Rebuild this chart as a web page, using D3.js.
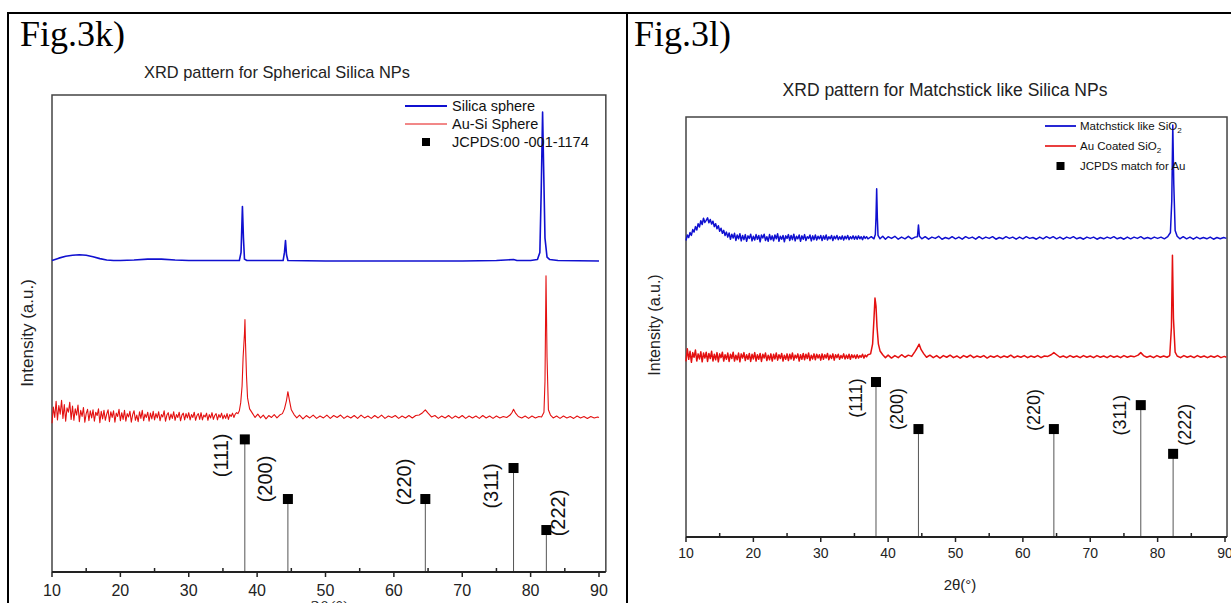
<!DOCTYPE html>
<html><head><meta charset="utf-8">
<script src="https://cdn.jsdelivr.net/npm/d3@7"></script>
<style>body{margin:0;background:#fff}svg{display:block}</style>
</head><body>
<svg id="c" width="1231" height="603"></svg>
<script>
// ---------------- DATA ----------------
const xTicks = [10, 20, 30, 40, 50, 60, 70, 80, 90];
const xMinor = [15, 25, 35, 45, 55, 65, 75, 85];
const hklLabels = ["(111)", "(200)", "(220)", "(311)", "(222)"];
const jcpdsPos = [38.2, 44.5, 64.6, 77.5, 82.3];
const jcpdsLeft = [27.8, 15.3, 15.3, 21.8, 8.8];    // Fig.3k stick heights (a.u.)
const jcpdsRight = [36.9, 25.7, 25.7, 31.4, 19.8];  // Fig.3l stick heights (a.u.)

// low-angle scans are sampled every 0.2 deg from 10.0 to 37.0 (intensity only)
const lowStart = 10, lowStep = 0.2;

// Fig.3k  Silica sphere  [2theta, intensity]
const silicaSphere = [[10,65.3],[11,65.8],[12,66.2],[13,66.4],[14,66.5],[15,66.4],[16,66.1],[17,65.7],[18,65.4],[19,65.3],[20,65.3],[22,65.4],[24,65.6],[26,65.6],[28,65.4],[30,65.3],[34,65.3],[37.4,65.3],[37.65,67],[37.85,76.6],[38.0,70],[38.15,65.6],[38.5,65.3],[43.8,65.3],[44.0,67],[44.15,69.5],[44.3,66.5],[44.5,65.3],[50,65.2],[60,65.2],[70,65.2],[75,65.3],[77.5,65.5],[78,65.3],[80,65.3],[81.0,65.5],[81.35,67],[81.55,80],[81.75,96.4],[81.9,85],[82.1,70],[82.4,66],[82.8,65.5],[84,65.3],[90,65.2]];

// Fig.3k  Au-Si Sphere
const auSiLow = [31.2,34.6,32.4,35.8,31.9,34.9,33.1,36.0,32.2,35.1,31.6,34.4,33.5,35.6,32.0,34.8,
 31.8,34.2,32.9,35.0,31.5,33.9,32.6,34.5,31.4,33.2,34.1,31.7,33.8,32.3,34.0,
 31.6,33.5,32.8,34.2,31.3,33.7,32.1,33.9,31.8,33.1,34.0,31.5,33.6,32.4,33.8,31.4,33.3,32.6,34.1,31.7,
 33.4,32.0,33.9,31.6,33.2,32.5,33.7,31.4,33.0,33.8,31.8,32.9,31.5,33.6,32.2,33.9,31.7,33.1,32.4,33.5,31.6,33.3,32.1,33.7,31.9,
 33.2,32.3,33.6,31.7,33.0,32.5,33.8,31.6,32.9,33.4,31.9,33.1,32.2,33.6,31.8,33.0,32.4,33.5,31.7,32.9,33.3,31.9,33.2,32.3,33.4,
 31.9,33.0,32.4,33.5,31.8,32.8,33.2,32.0,33.4,31.9,32.9,32.5,33.3,31.8,33.0,32.3,33.4,32.0,32.8,33.2,31.9,33.0,32.4,33.3,32.1,
 32.9,32.2,33.2,32.0,33.0,32.6,33.3,32.4,33.1,33.4];
const auSiHigh = [[37.2,33.2],[37.4,33.8],[37.6,35.5],[37.8,39],[37.95,45],[38.05,47.5],[38.15,50],[38.22,52.9],[38.3,48],[38.45,41],[38.6,36.5],[38.9,34.2],[39.3,33.3],[39.7,32.4],[40.1,33.1],[40.5,32.3],[40.9,32.9],[41.3,32.1],[41.7,32.8],[42.1,32.4],[42.5,33.0],[42.9,32.3],[43.3,32.9],[43.7,33.2],[44.0,34.2],[44.3,36.0],[44.5,37.8],[44.7,36.2],[45.0,34.0],[45.4,33.0],[45.8,32.3],[46.2,32.9],[46.7,32.1],[47.2,32.8],[47.7,32.3],[48.2,32.9],[48.7,32.2],[49.2,32.7],[49.7,32.3],[50.2,32.9],[50.7,32.2],[51.2,32.8],[51.7,32.4],[52.2,32.9],[52.7,32.2],[53.2,32.7],[53.7,32.3],[54.2,32.8],[54.7,32.2],[55.2,32.9],[55.7,32.3],[56.2,32.7],[56.7,32.2],[57.2,32.8],[57.7,32.3],[58.2,32.9],[58.7,32.2],[59.2,32.7],[59.7,32.4],[60.2,32.8],[60.7,32.2],[61.2,32.7],[61.7,32.3],[62.2,32.8],[62.7,32.3],[63.2,32.8],[63.7,32.9],[64.2,33.4],[64.6,34.0],[65.0,33.3],[65.5,32.5],[66,32.8],[66.5,32.2],[67,32.7],[67.5,32.3],[68,32.8],[68.5,32.2],[69,32.7],[69.5,32.3],[70,32.8],[70.5,32.2],[71,32.7],[71.5,32.3],[72,32.7],[72.5,32.2],[73,32.8],[73.5,32.3],[74,32.7],[74.5,32.2],[75,32.7],[75.5,32.3],[76,32.6],[76.5,32.4],[77.0,32.9],[77.3,33.5],[77.5,34.1],[77.8,33.3],[78.2,32.6],[78.7,32.3],[79.2,32.7],[79.7,32.2],[80.2,32.7],[80.7,32.3],[81.2,32.6],[81.6,32.5],[81.95,33.5],[82.1,40],[82.25,62.1],[82.4,45],[82.6,34],[82.9,32.9],[83.3,32.3],[83.8,32.7],[84.3,32.2],[84.8,32.7],[85.3,32.3],[85.8,32.6],[86.3,32.2],[86.8,32.7],[87.3,32.3],[87.8,32.6],[88.3,32.2],[88.8,32.6],[89.3,32.3],[89.8,32.5],[90,32.4]];

// Fig.3l  Matchstick like SiO2
const matchLow = [70.6,71.9,71.3,72.5,71.8,73.2,72.6,73.9,73.1,74.6,73.8,75.3,74.4,75.9,74.9,75.4,
 76.0,74.8,75.6,74.5,75.2,73.9,74.6,73.4,74.1,72.8,73.5,72.3,73.0,71.8,72.6,
 71.4,72.4,70.9,72.1,71.2,72.3,70.6,71.9,71.0,72.2,70.5,71.8,70.8,72.0,70.4,71.7,71.1,72.1,70.5,71.6,
 70.7,72.0,70.9,71.8,70.3,71.9,71.2,72.1,70.6,71.5,70.4,72.0,70.8,71.7,70.5,71.9,71.0,72.2,70.4,71.6,70.9,71.8,70.3,71.7,71.1,
 72.0,70.6,71.8,70.8,72.1,70.5,71.6,71.0,71.9,70.4,71.7,70.9,72.0,70.6,71.5,71.1,71.9,70.5,71.7,70.8,71.9,70.7,71.6,71.0,71.8,
 70.6,71.7,70.9,71.9,70.7,71.5,71.0,71.8,70.6,71.6,71.0,71.8,70.8,71.5,70.9,71.7,70.7,71.6,71.0,71.8,70.8,71.5,71.0,71.7,70.9,
 71.6,70.9,71.7,71.0,71.5,70.8,71.6,71.1,71.5,71.0];
const matchHigh = [[37.5,71.5],[37.9,71.0],[38.1,72],[38.2,76],[38.3,82.9],[38.4,76],[38.5,71.8],[38.8,71.0],[39.2,71.6],[39.6,70.9],[40,71.5],[40.5,71.1],[41,71.6],[41.5,70.9],[42,71.4],[42.5,71.0],[43,71.6],[43.5,71.0],[44,71.4],[44.35,71.5],[44.5,74.3],[44.65,71.6],[45,71.0],[45.5,71.5],[46,70.9],[46.5,71.4],[47,71.1],[47.5,71.6],[48,70.9],[48.5,71.3],[49,71.0],[49.5,71.5],[50,71.0],[50.5,71.4],[51,70.9],[51.5,71.5],[52,71.1],[52.5,71.4],[53,70.9],[53.5,71.5],[54,71.0],[54.5,71.4],[55,71.1],[55.5,71.5],[56,70.9],[56.5,71.3],[57,71.0],[57.5,71.5],[58,71.1],[58.5,71.4],[59,70.9],[59.5,71.4],[60,71.0],[60.5,71.5],[61,71.1],[61.5,71.3],[62,70.9],[62.5,71.4],[63,71.0],[63.5,71.5],[64,71.1],[64.5,71.5],[65,71.0],[65.5,71.4],[66,70.9],[66.5,71.4],[67,71.1],[67.5,71.5],[68,71.0],[68.5,71.3],[69,70.9],[69.5,71.4],[70,71.1],[70.5,71.4],[71,70.9],[71.5,71.3],[72,71.0],[72.5,71.4],[73,71.1],[73.5,71.5],[74,71.0],[74.5,71.3],[75,70.9],[75.5,71.4],[76,71.0],[76.5,71.4],[77,71.1],[77.5,71.5],[78,71.0],[78.5,71.3],[79,71.0],[79.5,71.4],[80,71.1],[80.5,71.4],[81,71.0],[81.5,71.5],[81.9,72.5],[82.1,80],[82.25,98.1],[82.4,84],[82.6,73],[82.9,71.6],[83.3,71.0],[83.8,71.5],[84.3,71.0],[84.8,71.4],[85.3,70.9],[85.8,71.4],[86.3,71.0],[86.8,71.3],[87.3,71.0],[87.8,71.4],[88.3,70.9],[88.8,71.3],[89.3,71.0],[89.8,71.3],[90.2,71.1]];

// Fig.3l  Au Coated SiO2
const auCoatLow = [41.8,44.8,42.3,44.2,41.6,43.9,42.8,44.5,41.9,43.6,42.4,44.1,41.7,43.8,42.6,44.0,
 41.8,43.7,42.5,44.2,41.9,43.5,42.2,43.9,41.7,43.6,42.7,44.0,41.9,43.4,42.3,
 43.8,41.8,43.5,42.5,44.0,41.9,43.3,42.2,43.8,41.7,43.6,42.6,43.9,42.0,43.4,42.3,43.7,41.8,43.5,42.4,
 43.9,41.9,43.4,42.3,43.7,41.8,43.5,42.6,43.8,42.0,43.3,42.2,43.6,41.9,43.5,42.4,43.8,42.1,43.4,42.5,43.7,41.9,43.3,42.3,43.6,
 42.0,43.5,42.4,43.8,42.1,43.3,42.6,43.6,41.9,43.4,42.3,43.7,42.2,43.5,42.5,43.8,42.0,43.3,42.4,43.6,42.2,43.5,42.6,43.4,42.1,
 43.6,42.3,43.4,42.6,43.7,42.2,43.3,42.5,43.6,42.1,43.4,42.7,43.5,42.3,43.2,42.6,43.6,42.4,43.3,42.5,43.5,42.3,43.4,42.7,43.3,
 42.5,43.4,42.6,43.2,42.8,43.5,42.6,43.3,42.9,43.4];
const auCoatHigh = [[37.4,43.6],[37.7,46],[37.9,52],[38.05,56.9],[38.2,55],[38.35,50],[38.55,46],[38.8,44.3],[39.2,43.4],[39.6,42.7],[40,43.3],[40.5,42.6],[41,43.2],[41.5,42.7],[42,43.4],[42.5,42.8],[43,43.3],[43.5,43.0],[44.0,44.2],[44.3,45],[44.6,45.9],[44.9,44.6],[45.3,43.6],[45.7,42.8],[46.2,43.3],[46.7,42.7],[47.2,43.2],[47.7,42.6],[48.2,43.2],[48.7,42.8],[49.2,43.3],[49.7,42.7],[50.2,43.1],[50.7,42.6],[51.2,43.2],[51.7,42.8],[52.2,43.3],[52.7,42.7],[53.2,43.1],[53.7,42.8],[54.2,43.2],[54.7,42.6],[55.2,43.1],[55.7,42.8],[56.2,43.2],[56.7,42.7],[57.2,43.1],[57.7,42.8],[58.2,43.3],[58.7,42.7],[59.2,43.1],[59.7,42.8],[60.2,43.2],[60.7,42.7],[61.2,43.1],[61.7,42.8],[62.2,43.2],[62.7,42.7],[63.2,43.1],[63.7,43.0],[64.2,43.4],[64.6,43.9],[65.0,43.4],[65.5,42.8],[66,43.1],[66.5,42.7],[67,43.2],[67.5,42.8],[68,43.1],[68.5,42.7],[69,43.2],[69.5,42.8],[70,43.1],[70.5,42.7],[71,43.2],[71.5,42.8],[72,43.1],[72.5,42.7],[73,43.2],[73.5,42.8],[74,43.1],[74.5,42.7],[75,43.2],[75.5,42.8],[76,43.1],[76.5,42.9],[77.1,43.3],[77.5,43.9],[77.9,43.2],[78.4,42.8],[78.9,43.1],[79.4,42.7],[79.9,43.2],[80.4,42.8],[80.9,43.1],[81.4,42.8],[81.8,43.2],[82.05,50],[82.2,67.1],[82.35,52],[82.6,44],[82.9,43.1],[83.4,42.7],[83.9,43.2],[84.4,42.8],[84.9,43.1],[85.4,42.7],[85.9,43.2],[86.4,42.8],[86.9,43.1],[87.4,42.7],[87.9,43.1],[88.4,42.8],[88.9,43.2],[89.4,42.7],[89.9,43.0],[90.2,42.8]];

const legendLeft = ["Silica sphere", "Au-Si Sphere", "JCPDS:00 -001-1174"];
const legendRight = ["Matchstick  like SiO", "Au Coated SiO", "JCPDS match  for Au"];

// join the sampled low-angle part with the high-angle part of a scan
function scan(low, high) {
  return low.map((v, i) => [lowStart + i * lowStep, v]).concat(high);
}

// ---------------- DRAW ----------------
const svg = d3.select("#c");
const BLUE = "#1010d0", RED = "#e41010";

svg.append("line").attr("x1",8).attr("x2",1231).attr("y1",13).attr("y2",13).attr("stroke","#000").attr("stroke-width",2);
svg.append("line").attr("x1",8).attr("x2",8).attr("y1",12).attr("y2",603).attr("stroke","#000").attr("stroke-width",2);
svg.append("line").attr("x1",627).attr("x2",627).attr("y1",12).attr("y2",603).attr("stroke","#000").attr("stroke-width",2);

function panel(o) {
  const g = svg.append("g");
  const x = d3.scaleLinear().domain([10, 90]).range([o.x10, o.x90]);
  const y = d3.scaleLinear().domain([0, 100]).range([o.bottom, o.top]);
  const xr = x(o.xmax);

  g.append("text").attr("x", o.figX).attr("y", o.figY).attr("font-family","Liberation Serif, serif")
    .attr("font-size", 36).text(o.fig);
  g.append("text").attr("x", o.titleX).attr("y", o.titleY).attr("text-anchor","middle")
    .attr("font-family","Liberation Sans, Arial, sans-serif").attr("font-size", o.titleSize).attr("fill","#222").text(o.title);

  g.append("path").attr("d", `M${o.x10},${o.bottom} V${o.top} H${xr} V${o.bottom}`)
    .attr("fill","none").attr("stroke","#444").attr("stroke-width",1.5);

  const line = d3.line().x(d => x(d[0])).y(d => y(d[1]));
  g.append("path").datum(o.red).attr("d", line).attr("fill","none").attr("stroke", RED).attr("stroke-width", o.redW).attr("stroke-linejoin","round");
  g.append("path").datum(o.blue).attr("d", line).attr("fill","none").attr("stroke", BLUE).attr("stroke-width", o.blueW).attr("stroke-linejoin","round");

  const sticks = jcpdsPos.map((p, i) => ({p, h: o.sticks[i], lab: hklLabels[i], off: o.labOff[i]}));
  g.selectAll(".stem").data(sticks).enter().append("line")
    .attr("x1", d => x(d.p)).attr("x2", d => x(d.p)).attr("y1", d => y(d.h)).attr("y2", o.bottom)
    .attr("stroke","#555").attr("stroke-width",1);
  g.selectAll(".sq").data(sticks).enter().append("rect")
    .attr("x", d => x(d.p) - 5).attr("y", d => y(d.h) - 5).attr("width",10).attr("height",10).attr("fill","#000");
  g.selectAll(".hkl").data(sticks).enter().append("text")
    .attr("transform", d => `translate(${x(d.p) + d.off[0]},${y(d.h) + d.off[1]}) rotate(-90)`)
    .attr("text-anchor","middle").attr("font-family","Liberation Sans, Arial, sans-serif")
    .attr("font-size", o.hklSize).attr("fill","#111").text(d => d.lab);

  g.append("line").attr("x1", o.x10).attr("x2", xr).attr("y1", o.bottom).attr("y2", o.bottom)
    .attr("stroke","#222").attr("stroke-width",2);
  g.selectAll(".maj").data(xTicks).enter().append("line")
    .attr("x1", d => x(d)).attr("x2", d => x(d)).attr("y1", o.bottom).attr("y2", o.bottom + 5)
    .attr("stroke","#222").attr("stroke-width",1.5);
  g.selectAll(".min").data(xMinor).enter().append("line")
    .attr("x1", d => x(d)).attr("x2", d => x(d)).attr("y1", o.bottom).attr("y2", o.bottom - 4)
    .attr("stroke","#222").attr("stroke-width",1.5);
  g.selectAll(".tl").data(xTicks).enter().append("text")
    .attr("x", d => x(d)).attr("y", o.bottom + o.tickDy).attr("text-anchor","middle")
    .attr("font-family","Liberation Sans, Arial, sans-serif").attr("font-size", o.tickSize).attr("fill","#222")
    .text(d => d);

  g.append("text").attr("x", o.xtX).attr("y", o.xtY).attr("text-anchor","middle")
    .attr("font-family", o.xtFont).attr("font-size", o.xtSize).attr("fill","#222").text("2θ(°)");
  g.append("text").attr("transform", `translate(${o.ytX},${o.ytY}) rotate(-90)`).attr("text-anchor","middle")
    .attr("font-family","Liberation Sans, Arial, sans-serif").attr("font-size", o.ytSize).attr("fill","#222")
    .text("Intensity (a.u.)");

  const L = o.leg;
  const lg = g.append("g").attr("font-family","Liberation Sans, Arial, sans-serif").attr("font-size", L.size).attr("fill","#111");
  const cols = [BLUE, RED, null];
  o.legText.forEach((t, i) => {
    const yy = L.y + i * L.dy;
    if (cols[i]) lg.append("line").attr("x1", L.x1).attr("x2", L.x2).attr("y1", yy).attr("y2", yy)
      .attr("stroke", cols[i]).attr("stroke-width", i === 1 ? L.redW : 1.8);
    else lg.append("rect").attr("x", (L.x1 + L.x2) / 2 - 4).attr("y", yy - 4).attr("width", 8).attr("height", 8).attr("fill","#000");
    const tx = lg.append("text").attr("x", L.tx).attr("y", yy + L.size * 0.36).text(t);
    if (o.sub && i < 2) tx.append("tspan").attr("font-size", L.size * 0.7).attr("dy", 3).text("2");
  });
}

panel({
  fig: "Fig.3k)", figX: 20, figY: 46,
  title: "XRD pattern for Spherical Silica NPs", titleX: 277, titleY: 78, titleSize: 16.4,
  x10: 52, x90: 599, xmax: 91, top: 95, bottom: 572,
  blue: silicaSphere, red: scan(auSiLow, auSiHigh), blueW: 1.6, redW: 1.1,
  sticks: jcpdsLeft, hklSize: 20,
  labOff: [[-17, 16], [-16, -20], [-14, -17], [-16, 18], [19, -17]],
  tickSize: 16, tickDy: 24,
  xtX: 330, xtY: 614, xtFont: "Liberation Serif, serif", xtSize: 19,
  ytX: 33, ytY: 333, ytSize: 17,
  legText: legendLeft, sub: false,
  leg: {x1: 405, x2: 447, tx: 452, y: 106, dy: 18, size: 14.5, redW: 1}
});

panel({
  fig: "Fig.3l)", figX: 634, figY: 46,
  title: "XRD pattern for Matchstick like Silica NPs", titleX: 945, titleY: 96, titleSize: 17.5,
  x10: 686, x90: 1225, xmax: 90.3, top: 117, bottom: 537,
  blue: scan(matchLow, matchHigh), red: scan(auCoatLow, auCoatHigh), blueW: 1.5, redW: 1.5,
  sticks: jcpdsRight, hklSize: 18,
  labOff: [[-14, 16], [-15, -20], [-14, -19], [-15, 10], [18, -29]],
  tickSize: 14, tickDy: 21,
  xtX: 960, xtY: 590, xtFont: "Liberation Sans, Arial, sans-serif", xtSize: 15,
  ytX: 660, ytY: 325, ytSize: 16,
  legText: legendRight, sub: true,
  leg: {x1: 1045, x2: 1076, tx: 1080, y: 126, dy: 20, size: 11.5, redW: 1.6}
});
</script>
</body></html>
